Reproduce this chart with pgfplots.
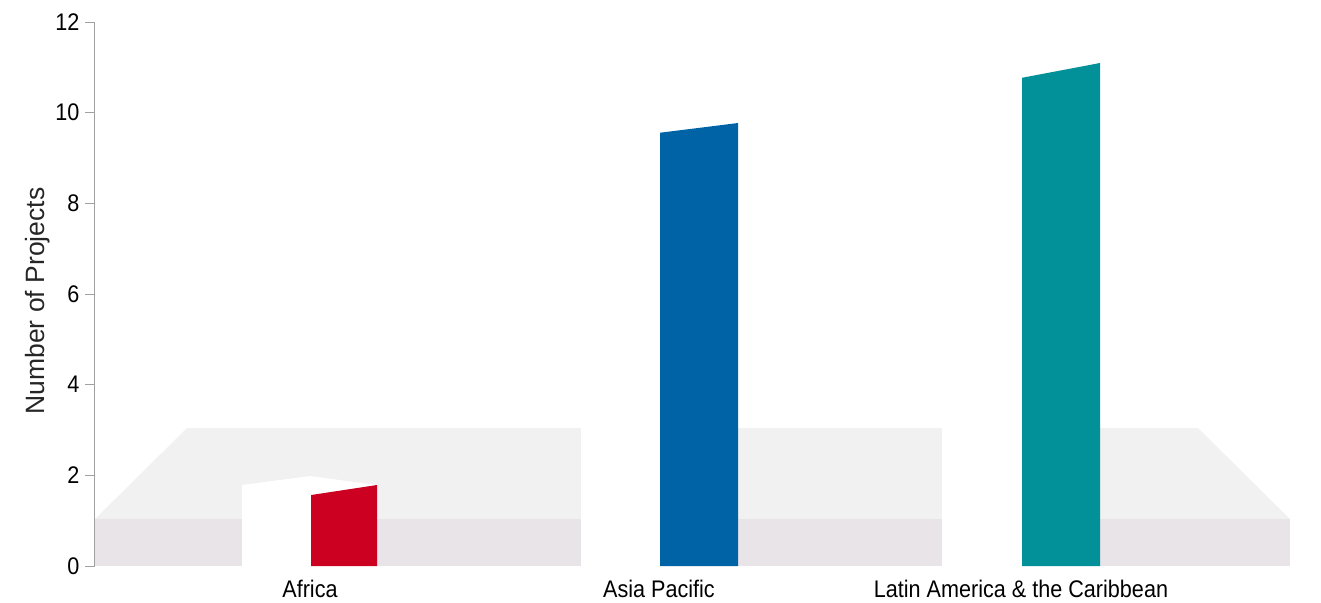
\documentclass[border=0pt]{standalone}
\usepackage{fontspec}
\setmainfont{Liberation Sans}
\newfontfamily\narrowfont{Liberation Sans}[FakeStretch=0.9]
\usepackage{pgfplots}
\pgfplotsset{compat=1.18}
\definecolor{africa}{HTML}{CC0020}
\definecolor{asia}{HTML}{0063A6}
\definecolor{latam}{HTML}{029199}
\definecolor{floorfront}{HTML}{E8E4E8}
\definecolor{floorback}{HTML}{F1F1F1}
\definecolor{axisgrey}{HTML}{A0A0A0}
\begin{document}
\begin{tikzpicture}
\begin{axis}[
  x=1bp, y=45.333bp,
  xmin=95, xmax=1290, ymin=0, ymax=12,
  clip=false,
  axis on top,
  axis lines=left,
  x axis line style={draw=none},
  y axis line style={axisgrey, line width=1bp, -},
  xtick={310,659,1021},
  xticklabels={Africa, Asia Pacific, Latin America \& the Caribbean},
  xtick style={draw=none},
  ytick={0,2,4,6,8,10,12},
  ytick style={axisgrey, line width=0.8bp},
  tick align=outside,
  major tick length=10bp,
  /pgf/number format/assume math mode=true,
  xticklabel style={font=\narrowfont\fontsize{24bp}{28bp}\selectfont, text=black, yshift=-1bp},
  yticklabel style={font=\narrowfont\fontsize{24bp}{28bp}\selectfont, text=black, xshift=-2bp},
  ylabel={Number of Projects},
  ylabel style={font=\fontsize{26.5bp}{30bp}\selectfont, text=black!85, at={(axis description cs:-0.0477,0.487)}, anchor=center, rotate=0},
]
% floor: back panel and front plate
\addplot[fill=floorback, draw=none] coordinates {(95,1.037) (187,3.044) (1198,3.044) (1287,1.10) (1290,1.037)} -- cycle;
\addplot[fill=floorfront, draw=none] coordinates {(95,0) (95,1.037) (1290,1.037) (1290,0)} -- cycle;

% Africa: side/top face and front face
\addplot[fill=white, draw=none] coordinates {(242,0) (242,1.787) (310,1.985) (377,1.787) (311,1.566) (311,0)} -- cycle;
\addplot[fill=africa, draw=none] coordinates {(311,0) (311,1.566) (377,1.787) (377,0)} -- cycle;

% Asia Pacific
\addplot[fill=white, draw=none] coordinates {(581,0) (581,9.772) (660,9.97) (738,9.772) (660,9.558) (660,0)} -- cycle;
\addplot[fill=asia, draw=none] coordinates {(660,0) (660,9.558) (738,9.772) (738,0)} -- cycle;

% Latin America & the Caribbean
\addplot[fill=white, draw=none] coordinates {(942,0) (942,11.096) (1022,11.29) (1100,11.096) (1022,10.77) (1022,0)} -- cycle;
\addplot[fill=latam, draw=none] coordinates {(1022,0) (1022,10.77) (1100,11.096) (1100,0)} -- cycle;

\coordinate (bbsw) at (axis cs:0,-0.794);
\coordinate (bbne) at (axis cs:1321,12.486);
\end{axis}
\pgfresetboundingbox
\path (bbsw) rectangle (bbne);
\end{tikzpicture}
\end{document}
